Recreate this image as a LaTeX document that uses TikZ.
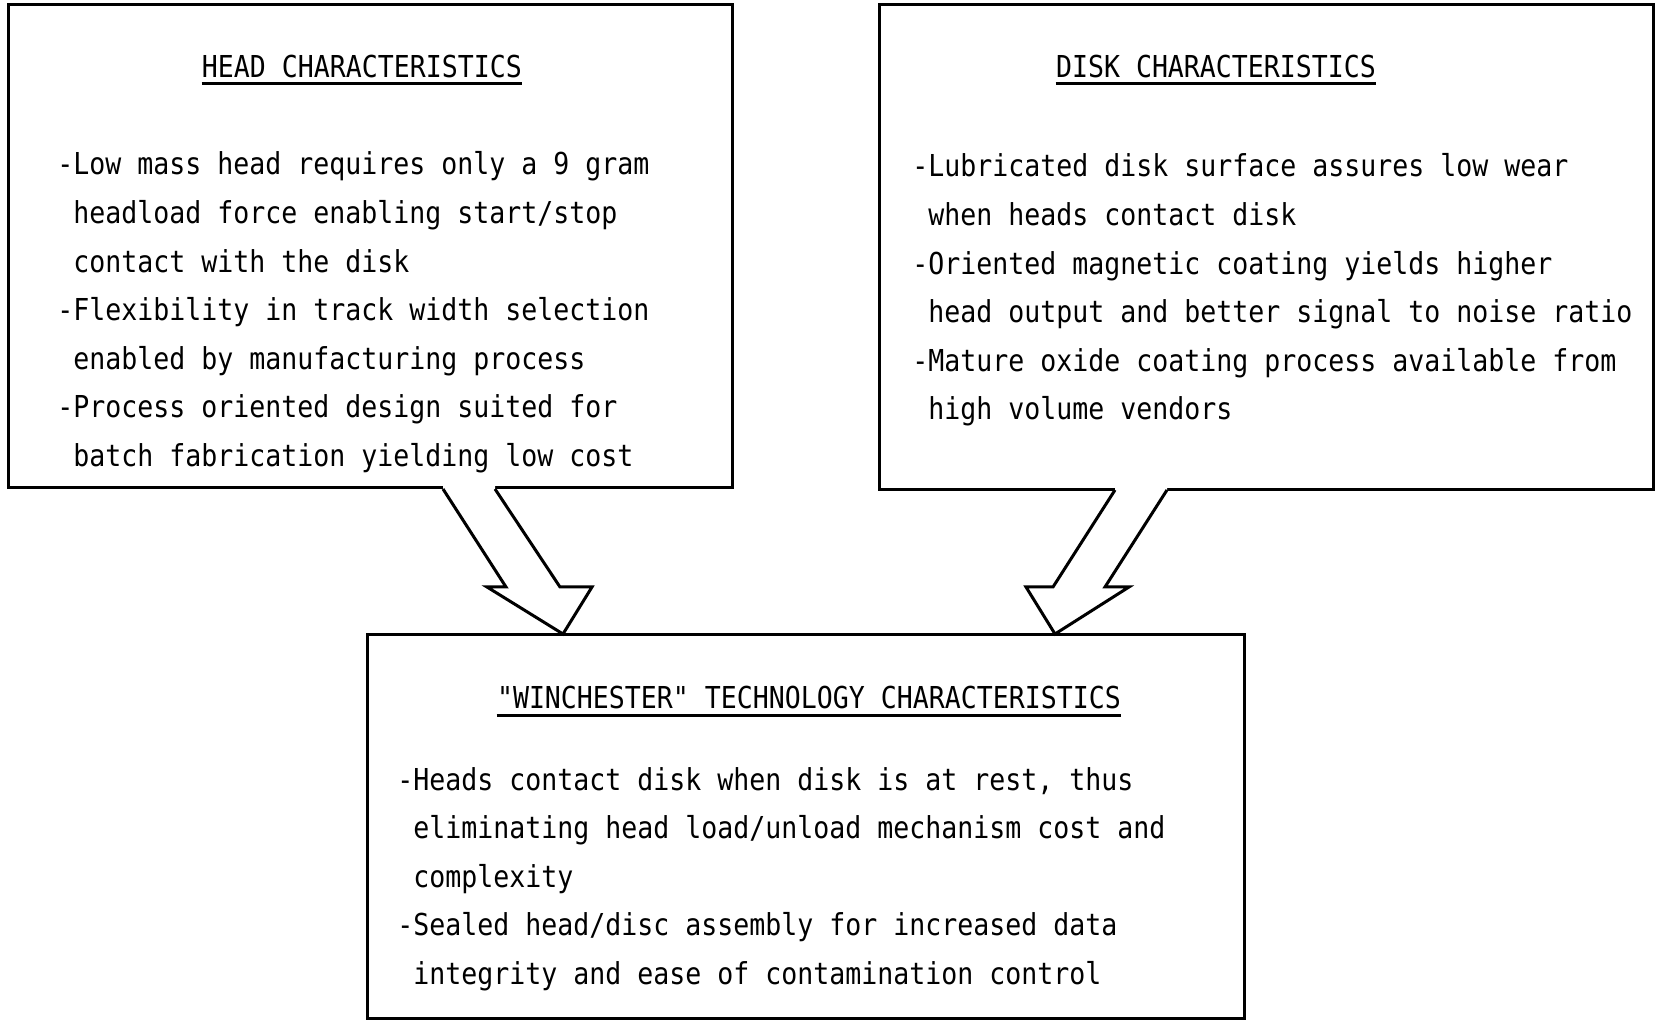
\documentclass[tikz,border=0pt]{standalone}
\usepackage{fontspec}
\newfontfamily\typer[FakeStretch=0.88]{DejaVu Sans Mono}

\begin{document}
\begin{tikzpicture}[x=0.5pt, y=-0.5pt,
    box/.style={draw, rectangle, line width=1.5pt, inner sep=0pt},
    title/.style={font=\typer\fontsize{15.1}{24.3}\selectfont, inner sep=0pt, anchor=base},
    body/.style={font=\typer\fontsize{15.1}{24.3}\selectfont, align=left, inner sep=0pt, anchor=base west},
    uline/.style={line width=1.5pt},
    arrowline/.style={line width=1.5pt, line join=miter}]

    \useasboundingbox (0,0) rectangle (1656,1021);

    % Define the three boxes
    \node[box, minimum width=362pt, minimum height=241.5pt] (head) at (370,246.5) {};
    \node[box, minimum width=387pt, minimum height=242.5pt] (disk) at (1266,247.5) {};
    \node[box, minimum width=438.5pt, minimum height=191.5pt] (winch) at (805.5,826.5) {};

    % Titles with underlines
    \node[title] (headtitle) at (362,77.5) {HEAD CHARACTERISTICS};
    \node[title] (disktitle) at (1216,77.5) {DISK CHARACTERISTICS};
    \node[title] (winchtitle) at (809,709) {"WINCHESTER" TECHNOLOGY CHARACTERISTICS};
    \draw[uline] ([yshift=-3pt]headtitle.base west) -- ([yshift=-3pt]headtitle.base east);
    \draw[uline] ([yshift=-3pt]disktitle.base west) -- ([yshift=-3pt]disktitle.base east);
    \draw[uline] ([yshift=-3pt]winchtitle.base west) -- ([yshift=-3pt]winchtitle.base east);

    % Lists in the boxes (placed at the baseline of the last line)
    \node[body] (headlist) at (57,466.6) {-Low mass head requires only a 9 gram\\
        \phantom{-}headload force enabling start/stop\\
        \phantom{-}contact with the disk\\
        -Flexibility in track width selection\\
        \phantom{-}enabled by manufacturing process\\
        -Process oriented design suited for\\
        \phantom{-}batch fabrication yielding low cost};
    \node[body] (disklist) at (912,420) {-Lubricated disk surface assures low wear\\
        \phantom{-}when heads contact disk\\
        -Oriented magnetic coating yields higher\\
        \phantom{-}head output and better signal to noise ratio\\
        -Mature oxide coating process available from\\
        \phantom{-}high volume vendors};
    \node[body] (winchlist) at (397,984.4) {-Heads contact disk when disk is at rest, thus\\
        \phantom{-}eliminating head load/unload mechanism cost and\\
        \phantom{-}complexity\\
        -Sealed head/disc assembly for increased data\\
        \phantom{-}integrity and ease of contamination control};

    % Block arrows into the bottom box
    \fill[white] (443,484) -- (443,489) -- (506,587) -- (487,587) -- (563,634)
        -- (592,587) -- (560,587) -- (495,489) -- (495,484) -- cycle;
    \draw[arrowline] (443,489) -- (506,587) -- (487,587) -- (563,634)
        -- (592,587) -- (560,587) -- (495,489);
    \fill[white] (1115,486) -- (1115,490) -- (1053,587) -- (1026,587) -- (1055,634)
        -- (1129,587) -- (1105,587) -- (1167,490) -- (1167,486) -- cycle;
    \draw[arrowline] (1115,490) -- (1053,587) -- (1026,587) -- (1055,634)
        -- (1129,587) -- (1105,587) -- (1167,490);
\end{tikzpicture}
\end{document}
